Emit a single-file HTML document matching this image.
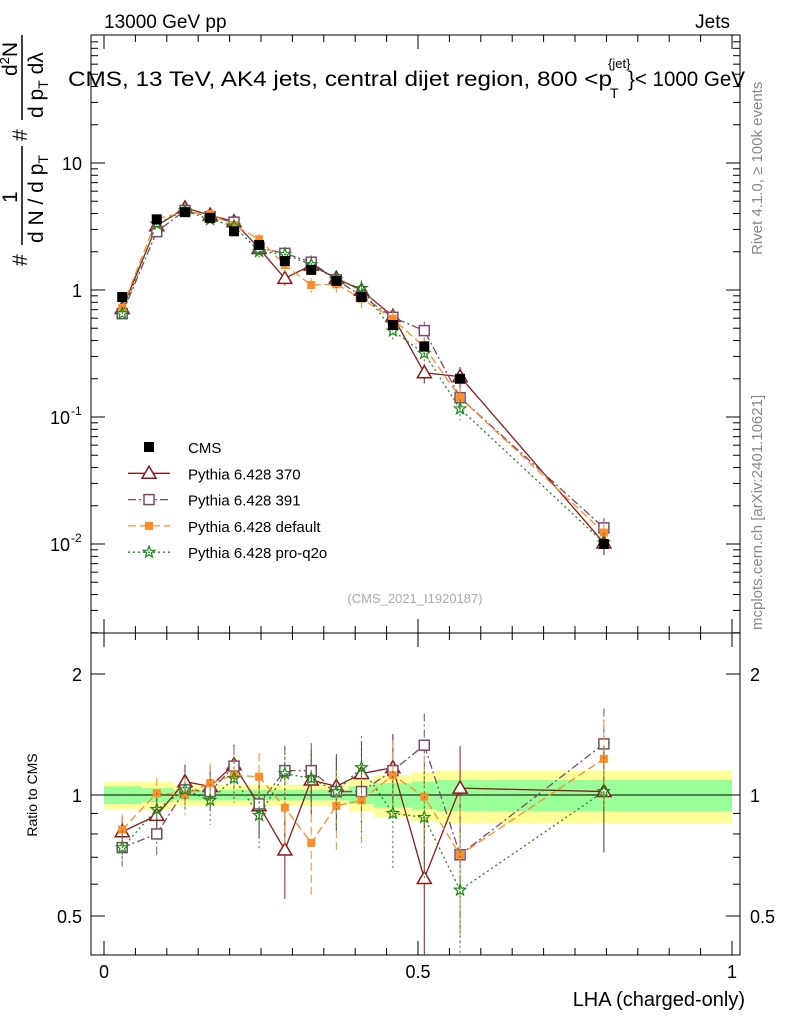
<!DOCTYPE html>
<html><head><meta charset="utf-8"><style>
body{margin:0;background:#fff;font-family:"Liberation Sans",sans-serif}
</style></head><body>
<svg id="c" width="786" height="1024" xmlns="http://www.w3.org/2000/svg" font-family="Liberation Sans, sans-serif">
<text x="104" y="28" font-size="19">13000 GeV pp</text>
<text x="730" y="28" font-size="19" text-anchor="end">Jets</text>
<g>
<text x="68" y="86" font-size="21" textLength="544" lengthAdjust="spacingAndGlyphs">CMS, 13 TeV, AK4 jets, central dijet region, 800 &lt;p</text>
<text x="610" y="98" font-size="14">T</text>
<text x="608" y="68" font-size="13">{jet}</text>
<text x="628" y="86" font-size="21" textLength="117" lengthAdjust="spacingAndGlyphs">}&lt; 1000 GeV</text>
</g>
<text transform="translate(762,255) rotate(-90)" font-size="15" fill="#888">Rivet 4.1.0, ≥ 100k events</text>
<text transform="translate(762,630) rotate(-90)" font-size="15" fill="#888">mcplots.cern.ch [arXiv:2401.10621]</text>
<g font-size="21">
<text transform="translate(27,266) rotate(-90)">#</text>
<text transform="translate(43,243) rotate(-90)">d N / d p<tspan font-size="14" dy="5">T</tspan></text>
<text transform="translate(17,203) rotate(-90)">1</text>
<line x1="22" x2="22" y1="245" y2="146" stroke="#000" stroke-width="1.5"/>
<text transform="translate(27,141) rotate(-90)">#</text>
<text transform="translate(17,76) rotate(-90)">d<tspan font-size="13" dy="-8">2</tspan><tspan dy="8">N</tspan></text>
<text transform="translate(43,118) rotate(-90)">d p<tspan font-size="14" dy="5">T</tspan><tspan dy="-5"> dλ</tspan></text>
<line x1="22" x2="22" y1="120" y2="35" stroke="#000" stroke-width="1.5"/>
</g>
<text x="415" y="603" font-size="13" fill="#aaa" text-anchor="middle">(CMS_2021_I1920187)</text>
<text transform="translate(37,795) rotate(-90)" font-size="14" text-anchor="middle">Ratio to CMS</text>
<text x="745" y="1006" font-size="20" text-anchor="end">LHA (charged-only)</text>
<g id="g"></g>
</svg>
<script>
const xs=[0.029,0.084,0.129,0.169,0.207,0.247,0.288,0.33,0.37,0.41,0.46,0.51,0.567,0.796];
const cms=[0.88,3.6,4.1,3.7,2.9,2.26,1.69,1.44,1.18,0.88,0.53,0.36,0.2,0.01];
const r370=[0.81,0.89,1.08,1.05,1.19,0.94,0.73,1.09,1.05,1.13,1.17,0.62,1.04,1.02];
const r391=[0.74,0.80,1.03,1.02,1.18,0.95,1.15,1.15,1.02,1.02,1.15,1.33,0.71,1.34];
const rdef=[0.82,1.01,1.0,1.07,1.12,1.11,0.93,0.76,0.94,0.97,1.12,0.99,0.71,1.23];
const rq2o=[0.74,0.92,1.03,0.97,1.10,0.89,1.13,1.10,1.02,1.17,0.9,0.88,0.58,1.02];
const binEdges=[0,0.06,0.11,0.15,0.19,0.23,0.27,0.31,0.35,0.39,0.43,0.49,0.53,0.6,1];
const yelBand=[0.08,0.08,0.06,0.06,0.06,0.06,0.06,0.06,0.06,0.09,0.12,0.14,0.15,0.15];
const grnBand=[0.05,0.04,0.03,0.03,0.03,0.03,0.03,0.03,0.03,0.05,0.07,0.08,0.09,0.09];
const NS='http://www.w3.org/2000/svg',G=document.getElementById('g');
const X=v=>104+v*628, Y=v=>290-127*Math.log10(v), R=v=>795-402*Math.log10(v);
function el(t,a,n){const e=document.createElementNS(NS,t);for(const k in a)e.setAttribute(k,a[k]);


G.appendChild(e);return e;}
for(let i=0;i<xs.length;i++){const x0=X(binEdges[i]),x1=X(binEdges[i+1]);
el('rect',{x:x0,y:R(1+yelBand[i]),width:x1-x0,height:R(1-yelBand[i])-R(1+yelBand[i]),fill:'#ffff99'},'band-yellow');
el('rect',{x:x0,y:R(1+grnBand[i]),width:x1-x0,height:R(1-grnBand[i])-R(1+grnBand[i]),fill:'#99ff99'},'band-green');}
el('line',{x1:X(0),x2:X(1),y1:R(1),y2:R(1),stroke:'#000'},'ratio-one-line');
el('rect',{x:91,y:35,width:649,height:598,fill:'none',stroke:'#000'},'main-frame');
el('rect',{x:91,y:633,width:649,height:322,fill:'none',stroke:'#000'},'ratio-frame');
for(let i=0;i<=20;i++){const v=i*0.05,x=X(v);if(x>740)continue;const L=i%10==0?14:7;
[633,955].forEach(y=>{el('line',{x1:x,x2:x,y1:y,y2:y-L,stroke:'#000'},'x-tick');});
el('line',{x1:x,x2:x,y1:35,y2:35+L,stroke:'#000'},'x-tick');el('line',{x1:x,x2:x,y1:633,y2:633+L,stroke:'#000'},'x-tick');}
const xl=['0','0.5','1'];xl.forEach((t,i)=>{const e=el('text',{x:X(i*0.5),y:978,'font-size':18,'text-anchor':'middle'},'x-tick-label');e.textContent=t;});
for(let d=-3;d<=1;d++)for(let m=1;m<10;m++){const v=m*Math.pow(10,d),y=Y(v);if(y<35||y>633)continue;const L=m==1?14:7;
el('line',{x1:91,x2:91+L,y1:y,y2:y,stroke:'#000'},'y-tick');el('line',{x1:740,x2:740-L,y1:y,y2:y,stroke:'#000'},'y-tick');}
[['10',10],['1',1]].forEach(([t,v])=>{const e=el('text',{x:82,y:Y(v)+7,'font-size':18,'text-anchor':'end'},'y-tick-label');e.textContent=t;});
[['10',-1],['10',-2]].forEach(([t,p])=>{const e=el('text',{x:70,y:Y(Math.pow(10,p))+7,'font-size':18,'text-anchor':'end'},'y-tick-label');e.textContent=t;
const s=el('text',{x:71,y:Y(Math.pow(10,p))-2,'font-size':12},'y-tick-exp');s.textContent=String(p);});
[0.5,0.6,0.7,0.8,0.9,1,2].forEach(v=>{const y=R(v),L=(v==0.5||v==1||v==2)?14:7;
el('line',{x1:91,x2:91+L,y1:y,y2:y,stroke:'#000'},'ratio-tick');el('line',{x1:740,x2:740-L,y1:y,y2:y,stroke:'#000'},'ratio-tick');
if(L==14){[[82,'end'],[750,'start']].forEach(([x,a])=>{const e=el('text',{x:x,y:y+7,'font-size':18,'text-anchor':a},'ratio-tick-label');e.textContent=String(v);});}});
const series=[
{n:'pythia-370',r:r370,c:'#8b1a1a',d:'',m:'tri'},
{n:'pythia-391',r:r391,c:'#7b4a6a',d:'8,3,2,3',m:'osq'},
{n:'pythia-default',r:rdef,c:'#ff8c2a',d:'8,4',m:'fsq'},
{n:'pythia-pro-q2o',r:rq2o,c:'#1a8a1a',d:'2,3',m:'star'}];
function marker(m,x,y,c,n){
if(m=='tri')el('polygon',{points:`${x},${y-7} ${x-7},${y+5} ${x+7},${y+5}`,fill:'#fff',stroke:c,'stroke-width':1.5},n);
else if(m=='osq')el('rect',{x:x-5,y:y-5,width:10,height:10,fill:'#fff',stroke:c,'stroke-width':1.5},n);
else if(m=='fsq')el('rect',{x:x-4,y:y-4,width:8,height:8,fill:c},n);
else if(m=='star'){let p=[];for(let k=0;k<10;k++){const a=Math.PI/5*k-Math.PI/2,rr=k%2?2.5:6;p.push((x+rr*Math.cos(a))+','+(y+rr*Math.sin(a)));}
el('polygon',{points:p.join(' '),fill:'none',stroke:c,'stroke-width':1.2},n);}
else el('rect',{x:x-5,y:y-5,width:10,height:10,fill:'#000'},n);}
series.forEach(s=>{
const pm=xs.map((x,i)=>X(x)+','+Y(cms[i]*s.r[i])).join(' ');
el('polyline',{points:pm,fill:'none',stroke:s.c,'stroke-width':1.3,'stroke-dasharray':s.d},s.n+'-line');
const pr=xs.map((x,i)=>X(x)+','+R(s.r[i])).join(' ');
el('polyline',{points:pr,fill:'none',stroke:s.c,'stroke-width':1.3,'stroke-dasharray':s.d},s.n+'-ratio-line');
xs.forEach((x,i)=>{const e=0.05+0.15*i/13;const v=cms[i]*s.r[i];
el('line',{x1:X(x),x2:X(x),y1:Y(v*(1+e)),y2:Y(v*(1-e)),stroke:s.c,'stroke-dasharray':s.d},s.n+'-err');
el('line',{x1:X(x),x2:X(x),y1:Math.max(R(s.r[i]+e*1.5),636),y2:Math.min(R(s.r[i]-e*1.5),955),stroke:s.c,'stroke-dasharray':s.d},s.n+'-ratio-err');
marker(s.m,X(x),Y(v),s.c,s.n+'-point');marker(s.m,X(x),R(s.r[i]),s.c,s.n+'-ratio-point');});});
xs.forEach((x,i)=>marker('cms',X(x),Y(cms[i]),'#000','cms-point'));
const leg=[['CMS','cms','#000',''],['Pythia 6.428 370','tri','#8b1a1a',''],['Pythia 6.428 391','osq','#7b4a6a','8,3,2,3'],['Pythia 6.428 default','fsq','#ff8c2a','8,4'],['Pythia 6.428 pro-q2o','star','#1a8a1a','2,3']];
leg.forEach((l,i)=>{const y=447+i*26.3;
if(i>0)el('line',{x1:128,x2:170,y1:y,y2:y,stroke:l[2],'stroke-width':1.3,'stroke-dasharray':l[3]},'legend-line');
marker(l[1],149,y,l[2],'legend-marker');
const t=el('text',{x:188,y:y+6,'font-size':15},'legend-entry');t.textContent=l[0];});
</script>
</body></html>
